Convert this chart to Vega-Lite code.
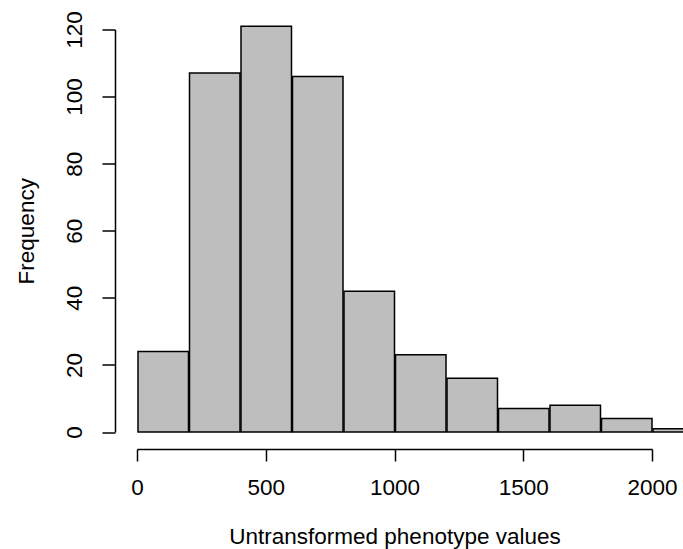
{
  "$schema": "https://vega.github.io/schema/vega-lite/v6.json",
  "width": 515,
  "height": 402.5,
  "autosize": {"type": "none"},
  "padding": {"left": 137, "right": 31, "top": 29.5, "bottom": 117},
  "background": "white",
  "config": {
    "view": {"stroke": null},
    "font": "Liberation Sans",
    "axis": {
      "labelFont": "Liberation Sans",
      "titleFont": "Liberation Sans",
      "labelFontSize": 22.5,
      "titleFontSize": 22.5,
      "titleFontWeight": "normal",
      "labelColor": "black",
      "titleColor": "black",
      "domainColor": "black",
      "tickColor": "black",
      "domainWidth": 1.5,
      "tickWidth": 1.5,
      "grid": false,
      "labelFlush": false,
      "labelOverlap": false
    }
  },
  "data": {
    "values": [
      {"bin_start": 0, "bin_end": 200, "count": 24},
      {"bin_start": 200, "bin_end": 400, "count": 107},
      {"bin_start": 400, "bin_end": 600, "count": 121},
      {"bin_start": 600, "bin_end": 800, "count": 106},
      {"bin_start": 800, "bin_end": 1000, "count": 42},
      {"bin_start": 1000, "bin_end": 1200, "count": 23},
      {"bin_start": 1200, "bin_end": 1400, "count": 16},
      {"bin_start": 1400, "bin_end": 1600, "count": 7},
      {"bin_start": 1600, "bin_end": 1800, "count": 8},
      {"bin_start": 1800, "bin_end": 2000, "count": 4},
      {"bin_start": 2000, "bin_end": 2200, "count": 1}
    ]
  },
  "mark": {"type": "bar", "fill": "#bebebe", "stroke": "black", "strokeWidth": 1.5, "clip": false},
  "encoding": {
    "x": {
      "field": "bin_start",
      "type": "quantitative",
      "bin": {"binned": true, "step": 200},
      "scale": {"domain": [0, 2000], "nice": false, "zero": false},
      "axis": {
        "values": [0, 500, 1000, 1500, 2000],
        "format": "d",
        "offset": 17,
        "tickSize": 12,
        "labelPadding": 15,
        "title": "Untransformed phenotype values",
        "titleBaseline": "alphabetic",
        "titleY": 94.3
      }
    },
    "x2": {"field": "bin_end"},
    "y": {
      "field": "count",
      "type": "quantitative",
      "scale": {"domain": [0, 120], "nice": false},
      "axis": {
        "values": [0, 20, 40, 60, 80, 100, 120],
        "format": "d",
        "offset": 22,
        "tickSize": 13,
        "labelAngle": 270,
        "labelAlign": "center",
        "labelBaseline": "alphabetic",
        "labelPadding": 21,
        "title": "Frequency",
        "titleAngle": 270,
        "titleBaseline": "alphabetic",
        "titleAlign": "center",
        "titleX": -82
      }
    }
  }
}
